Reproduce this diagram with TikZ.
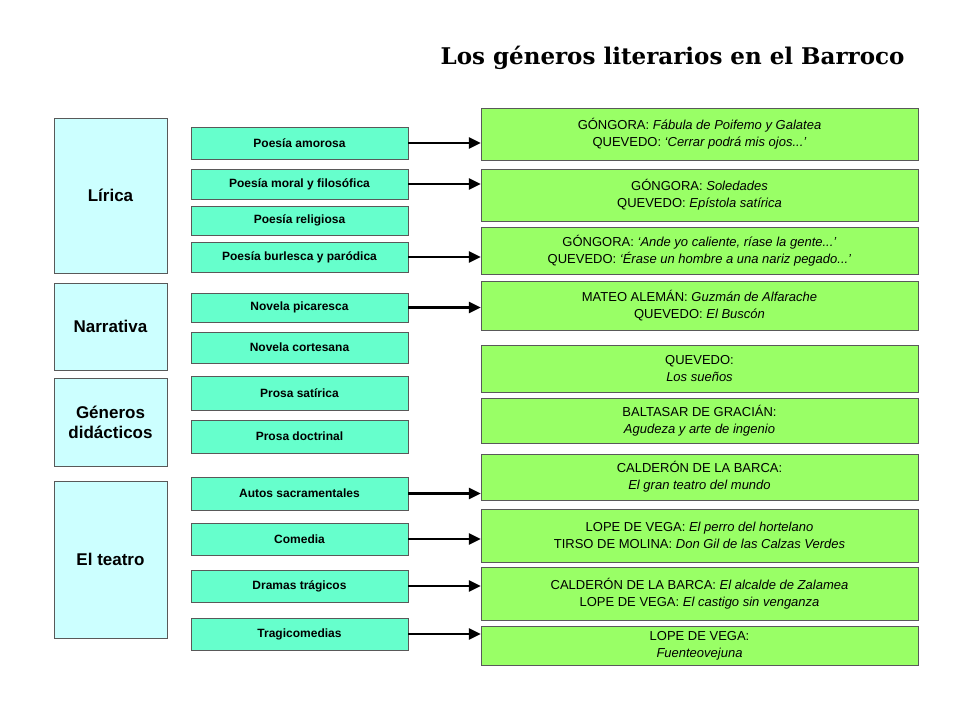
\documentclass[tikz,border=0pt]{standalone}
\usepackage{fontspec}
\setmainfont{Liberation Sans}
\newfontfamily\titlefont{DejaVu Serif}
\usetikzlibrary{arrows.meta}
\definecolor{cyanbox}{HTML}{CCFFFF}
\definecolor{aquabox}{HTML}{66FFCC}
\definecolor{greenbox}{HTML}{99FF66}
\begin{document}
\begin{tikzpicture}[x=1pt,y=-1pt]
  \tikzset{ genre/.style={draw=gray!70!black,fill=cyanbox,font=\bfseries\fontsize{17}{20}\selectfont},
    sub/.style={draw=gray!70!black,fill=aquabox,font=\bfseries\fontsize{12}{15}\selectfont},
    work/.style={draw=gray!70!black,fill=greenbox,font=\fontsize{13}{17}\selectfont,align=center},
    link/.style={-{Triangle[length=12pt,width=11pt]},line width=2.4pt},
  }
  \useasboundingbox (0,0) rectangle (960,720);
  \node[font=\titlefont\bfseries\fontsize{23}{27}\selectfont,anchor=east] (title) at (908,58) {Los géneros literarios en el Barroco};

  % left column
  \draw[genre] (54,118) rectangle (167,273) node[midway] (lirica) {Lírica};
  \draw[genre] (54,283) rectangle (167,370) node[midway] (narrativa) {Narrativa};
  \draw[genre] (54,378) rectangle (167,466) node[midway,align=center] (didac) {Géneros\\didácticos};
  \draw[genre] (54,481) rectangle (167,638) node[midway] (teatro) {El teatro};

  % middle column
  \foreach \n/\a/\b/\t in {s1/127/159/Poesía amorosa, s2/169/199/Poesía moral y filosófica,
      s3/206/235/Poesía religiosa, s4/242/272/Poesía burlesca y paródica,
      s5/293/322/Novela picaresca, s6/332/363/Novela cortesana,
      s7/376/410/Prosa satírica, s8/420/453/Prosa doctrinal,
      s9/477/510/Autos sacramentales, s10/523/555/Comedia,
      s11/570/602/Dramas trágicos, s12/618/650/Tragicomedias}
    \node[sub,minimum width=217pt,minimum height={\b-\a},inner sep=0pt] (\n) at (299.5,{(\a+\b)/2}) {\t};

  % right column
  \foreach \n/\a/\b/\t in {w1/108/160/{GÓNGORA: \textit{Fábula de Poifemo y Galatea}\\QUEVEDO: \textit{‘Cerrar podrá mis ojos...’}},
      w2/169/221/{GÓNGORA: \textit{Soledades}\\QUEVEDO: \textit{Epístola satírica}},
      w3/227/274/{GÓNGORA: \textit{‘Ande yo caliente, ríase la gente...’}\\QUEVEDO: \textit{‘Érase un hombre a una nariz pegado...’}},
      w4/281/330/{MATEO ALEMÁN: \textit{Guzmán de Alfarache}\\QUEVEDO: \textit{El Buscón}},
      w5/345/392/{QUEVEDO:\\\textit{Los sueños}},
      w6/398/443/{BALTASAR DE GRACIÁN:\\\textit{Agudeza y arte de ingenio}},
      w7/454/500/{CALDERÓN DE LA BARCA:\\\textit{El gran teatro del mundo}},
      w8/509/562/{LOPE DE VEGA: \textit{El perro del hortelano}\\TIRSO DE MOLINA: \textit{Don Gil de las Calzas Verdes}},
      w9/567/620/{CALDERÓN DE LA BARCA: \textit{El alcalde de Zalamea}\\LOPE DE VEGA: \textit{El castigo sin venganza}},
      w10/626/665/{LOPE DE VEGA:\\\textit{Fuenteovejuna}}}
    \node[work,minimum width=437pt,minimum height={\b-\a},inner sep=0pt] (\n) at (699.5,{(\a+\b)/2}) {\t};

  \draw[link] (s1) -- (s1 -| w1.west);
  \draw[link] (s2) -- (s2 -| w2.west);
  \draw[link] (s4) -- (s4 -| w3.west);
  \draw[link] (s5) -- (s5 -| w4.west);
  \draw[link] (s9) -- (s9 -| w7.west);
  \draw[link] (s10) -- (s10 -| w8.west);
  \draw[link] (s11) -- (s11 -| w9.west);
  \draw[link] (s12) -- (s12 -| w10.west);
\end{tikzpicture}
\end{document}
